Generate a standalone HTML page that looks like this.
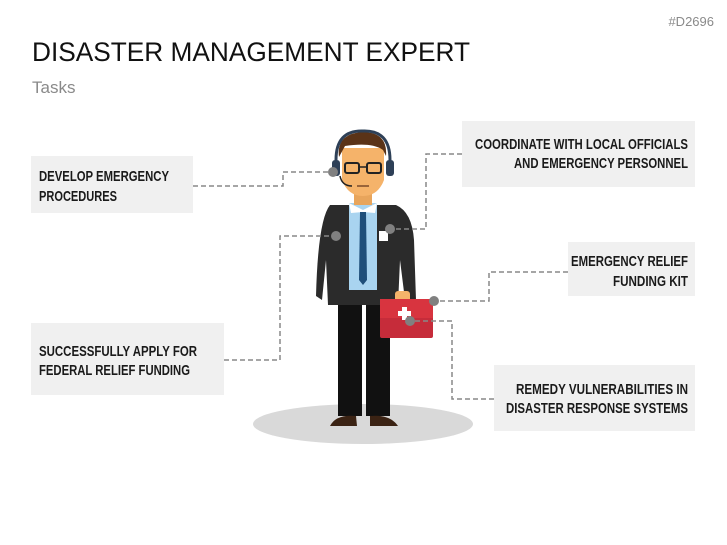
<!DOCTYPE html>
<html><head><style>
html,body{margin:0;padding:0;background:#fff;width:727px;height:545px;overflow:hidden}
svg{display:block}
.t{font-family:"Liberation Sans Narrow","Liberation Sans",sans-serif;font-weight:bold;font-size:15px;fill:#1a1a1a}
</style></head><body>
<svg width="727" height="545" viewBox="0 0 727 545" xmlns="http://www.w3.org/2000/svg">
<text x="714" y="26" text-anchor="end" font-family="Liberation Sans Narrow, Liberation Sans, sans-serif" font-size="13" fill="#8a8a8a">#D2696</text>
<text x="32" y="61" font-family="Liberation Sans Narrow, Liberation Sans, sans-serif" font-size="27" fill="#111" textLength="438" lengthAdjust="spacingAndGlyphs">DISASTER MANAGEMENT EXPERT</text>
<text x="32" y="93" font-family="Liberation Sans Narrow, Liberation Sans, sans-serif" font-size="17" fill="#8a8a8a">Tasks</text>

<!-- boxes -->
<g fill="#f0f0f0">
<rect x="31" y="156" width="162" height="57"/>
<rect x="462" y="121" width="233" height="66"/>
<rect x="568" y="242" width="127" height="54"/>
<rect x="31" y="323" width="193" height="72"/>
<rect x="494" y="365" width="201" height="66"/>
</g>
<g class="t">
<text x="39" y="181" textLength="130" lengthAdjust="spacingAndGlyphs">DEVELOP EMERGENCY</text>
<text x="39" y="201" textLength="78" lengthAdjust="spacingAndGlyphs">PROCEDURES</text>
<text x="688" y="149" text-anchor="end" textLength="213" lengthAdjust="spacingAndGlyphs">COORDINATE WITH LOCAL OFFICIALS</text>
<text x="688" y="168" text-anchor="end" textLength="174" lengthAdjust="spacingAndGlyphs">AND EMERGENCY PERSONNEL</text>
<text x="688" y="266" text-anchor="end" textLength="117" lengthAdjust="spacingAndGlyphs">EMERGENCY RELIEF</text>
<text x="688" y="286" text-anchor="end" textLength="75" lengthAdjust="spacingAndGlyphs">FUNDING KIT</text>
<text x="39" y="356" textLength="158" lengthAdjust="spacingAndGlyphs">SUCCESSFULLY APPLY FOR</text>
<text x="39" y="375" textLength="151" lengthAdjust="spacingAndGlyphs">FEDERAL RELIEF FUNDING</text>
<text x="688" y="394" text-anchor="end" textLength="172" lengthAdjust="spacingAndGlyphs">REMEDY VULNERABILITIES IN</text>
<text x="688" y="413" text-anchor="end" textLength="182" lengthAdjust="spacingAndGlyphs">DISASTER RESPONSE SYSTEMS</text>
</g>

<!-- shadow -->
<ellipse cx="363" cy="424" rx="110" ry="20" fill="#d9d9d9"/>

<!-- person -->
<!-- legs -->
<rect x="338" y="298" width="24" height="118" fill="#111"/>
<rect x="366" y="298" width="24" height="118" fill="#111"/>
<path d="M330 426 Q336 414 356 416 L357 426 Z" fill="#3b2314"/>
<path d="M370 416 Q390 414 398 426 L370 426 Z" fill="#3b2314"/>
<!-- jacket -->
<path d="M330 205 L396 205 Q412 212 414 240 L416 300 L405 300 L400 260 L398 305 L328 305 L326 260 L322 300 L316 296 Q318 220 330 205 Z" fill="#2b2b2b"/>
<!-- shirt -->
<path d="M349 203 L377 203 L377 290 L349 290 Z" fill="#a9d4f0"/>
<path d="M349 203 L363 210 L377 203 L375 213 L363 212 L351 213 Z" fill="#fff"/>
<path d="M360 212 L366 212 L367 280 L363 285 L359 280 Z" fill="#1f4f7a"/>
<rect x="379" y="231" width="9" height="10" fill="#fff"/>
<!-- neck & head -->
<rect x="354" y="190" width="18" height="15" fill="#e8a55c"/>
<path d="M342 148 L384 148 L384 180 Q378 196 363 196 Q348 196 342 180 Z" fill="#f5b36a"/>
<path d="M339 157 Q336 134 362 132 Q388 132 386 156 L383 150 Q372 142 345 146 Z" fill="#5a3318"/>
<path d="M336 160 Q336 130 363 131 Q390 130 390 160" fill="none" stroke="#2e4057" stroke-width="3"/>
<rect x="332" y="160" width="8" height="16" rx="3" fill="#2e4057"/>
<rect x="386" y="160" width="8" height="16" rx="3" fill="#2e4057"/>
<rect x="345" y="163" width="14" height="10" rx="2" fill="none" stroke="#222" stroke-width="2"/>
<rect x="367" y="163" width="14" height="10" rx="2" fill="none" stroke="#222" stroke-width="2"/>
<line x1="359" y1="167" x2="367" y2="167" stroke="#222" stroke-width="1.5"/>
<path d="M340 176 Q342 186 352 186" fill="none" stroke="#222" stroke-width="1.5"/>
<line x1="357" y1="186" x2="369" y2="186" stroke="#7a4a2a" stroke-width="1.5"/>
<!-- hand & briefcase -->
<rect x="395" y="291" width="15" height="12" rx="3" fill="#f5b36a"/>
<rect x="380" y="299" width="53" height="39" rx="2" fill="#c62c3a"/>
<path d="M380 299 L433 299 L433 318 L380 318 Z" fill="#d8343f"/>
<path d="M402 307 h5 v4 h4 v5 h-4 v4 h-5 v-4 h-4 v-5 h4 z" fill="#fff"/>

<!-- connectors -->
<g fill="none" stroke="#888" stroke-width="1.5" stroke-dasharray="5,3">
<polyline points="193,186 283,186 283,172 333,172"/>
<polyline points="462,154 426,154 426,229 390,229"/>
<polyline points="568,272 489,272 489,301 434,301"/>
<polyline points="224,360 280,360 280,236 336,236"/>
<polyline points="494,399 452,399 452,321 410,321"/>
</g>
<g fill="#808080">
<circle cx="333" cy="172" r="5"/>
<circle cx="390" cy="229" r="5"/>
<circle cx="434" cy="301" r="5"/>
<circle cx="336" cy="236" r="5"/>
<circle cx="410" cy="321" r="5"/>
</g>
</svg>
</body></html>
